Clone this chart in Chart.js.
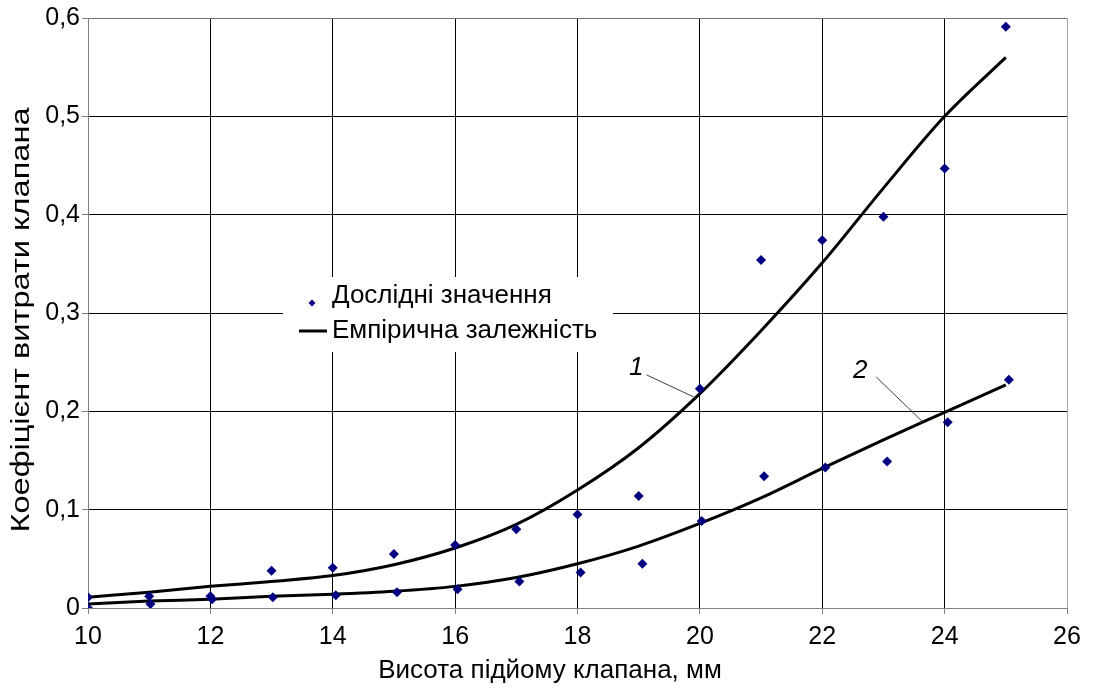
<!DOCTYPE html>
<html>
<head>
<meta charset="utf-8">
<script src="https://cdn.jsdelivr.net/npm/chart.js@4.4.1/dist/chart.umd.min.js"></script>
<style>
  html, body { margin: 0; padding: 0; background: #fff; }
  #wrap { width: 1093px; height: 688px; position: relative; }
</style>
</head>
<body>
<div id="wrap"><canvas id="c" width="1093" height="688"></canvas></div>
<script>
// ---- Data ----
const xMeasUpper = [10, 11, 12, 13, 14, 15, 16, 17, 18, 19, 20, 21, 22, 23, 24, 25];
const yMeasUpper = [0.011, 0.012, 0.012, 0.038, 0.041, 0.055, 0.064, 0.080, 0.095, 0.114, 0.223, 0.354, 0.374, 0.398, 0.447, 0.591];
const xMeasLower = [10, 11.02, 12.03, 13.02, 14.05, 15.05, 16.04, 17.05, 18.05, 19.06, 20.03, 21.05, 22.05, 23.06, 24.05, 25.05];
const yMeasLower = [0.0, 0.004, 0.009, 0.011, 0.013, 0.016, 0.019, 0.027, 0.036, 0.045, 0.0885, 0.134, 0.143, 0.149, 0.189, 0.232];

const xFit = [10, 11, 12, 13, 14, 15, 16, 17, 18, 19, 20, 21, 22, 23, 24, 25];
const yFit1 = [0.011, 0.016, 0.022, 0.027, 0.033, 0.044, 0.061, 0.085, 0.120, 0.163, 0.218, 0.282, 0.351, 0.427, 0.500, 0.560];
const yFit2 = [0.004, 0.007, 0.009, 0.012, 0.014, 0.017, 0.022, 0.031, 0.045, 0.063, 0.086, 0.112, 0.142, 0.171, 0.199, 0.227];

const xTicks = [10, 12, 14, 16, 18, 20, 22, 24, 26];
const yTicks = [0, 0.1, 0.2, 0.3, 0.4, 0.5, 0.6];

const legendLabels = ['Дослідні значення', 'Емпірична залежність'];
const xTitle = 'Висота підйому клапана, мм';
const yTitle = 'Коефіцієнт витрати клапана';

// curve labels "1", "2" and their leader lines (data coordinates)
const curveLabels = ['1', '2'];
const labelX = [18.96, 22.62];
const labelY = [0.244, 0.241];
const leaderFromX = [19.13, 22.88];
const leaderFromY = [0.237, 0.235];
const leaderToX = [19.90, 23.63];
const leaderToY = [0.2146, 0.190];

const FONT = '"Liberation Sans", Arial, sans-serif';
const NAVY = '#000080';

function pts(xs, ys) { return xs.map((x, i) => ({ x: x, y: ys[i] })); }

const decorPlugin = {
  id: 'decor',
  afterDraw(chart) {
    const ctx = chart.ctx;
    const xs = chart.scales.x, ys = chart.scales.y;
    const ca = chart.chartArea;
    ctx.save();
    // leader lines
    ctx.strokeStyle = '#404040';
    ctx.lineWidth = 1;
    for (let i = 0; i < curveLabels.length; i++) {
      ctx.beginPath();
      ctx.moveTo(xs.getPixelForValue(leaderFromX[i]), ys.getPixelForValue(leaderFromY[i]));
      ctx.lineTo(xs.getPixelForValue(leaderToX[i]), ys.getPixelForValue(leaderToY[i]));
      ctx.stroke();
    }
    // curve numbers
    ctx.fillStyle = '#000';
    ctx.font = 'italic 26px ' + FONT;
    ctx.textAlign = 'center';
    ctx.textBaseline = 'middle';
    for (let i = 0; i < curveLabels.length; i++) {
      ctx.fillText(curveLabels[i], xs.getPixelForValue(labelX[i]), ys.getPixelForValue(labelY[i]));
    }
    // legend box
    const lx = ca.left + 195, ly = ca.top + 259;
    ctx.fillStyle = '#fff';
    ctx.fillRect(lx, ly, 330, 75);
    // marker 1: diamond
    ctx.fillStyle = NAVY;
    ctx.beginPath();
    const mx = lx + 29, my = ly + 26, r = 3.5;
    ctx.moveTo(mx, my - r); ctx.lineTo(mx + r, my); ctx.lineTo(mx, my + r); ctx.lineTo(mx - r, my); ctx.closePath();
    ctx.fill();
    // marker 2: line
    ctx.strokeStyle = '#000';
    ctx.lineWidth = 3;
    ctx.beginPath();
    ctx.moveTo(lx + 16, ly + 54); ctx.lineTo(lx + 44, ly + 54);
    ctx.stroke();
    ctx.fillStyle = '#000';
    ctx.font = '26px ' + FONT;
    ctx.textAlign = 'left';
    ctx.textBaseline = 'alphabetic';
    ctx.fillText(legendLabels[0], lx + 49, ly + 26);
    ctx.fillText(legendLabels[1], lx + 49, ly + 61);
    // axis titles
    ctx.font = '26px ' + FONT;
    ctx.textAlign = 'center';
    ctx.textBaseline = 'middle';
    ctx.fillText(xTitle, 550, 671);
    ctx.font = '25px ' + FONT;
    const w = ctx.measureText(yTitle).width;
    ctx.translate(22, 320);
    ctx.rotate(-Math.PI / 2);
    ctx.scale(425 / w, 1);
    ctx.fillText(yTitle, 0, 0);
    ctx.restore();
  }
};

new Chart(document.getElementById('c'), {
  type: 'scatter',
  data: {
    datasets: [
      { label: legendLabels[1], type: 'line', data: pts(xFit, yFit1), borderColor: '#000', borderWidth: 3, pointRadius: 0, fill: false, cubicInterpolationMode: 'monotone', order: 2 },
      { label: legendLabels[1], type: 'line', data: pts(xFit, yFit2), borderColor: '#000', borderWidth: 3, pointRadius: 0, fill: false, cubicInterpolationMode: 'monotone', order: 2 },
      { label: legendLabels[0], data: pts(xMeasUpper, yMeasUpper), pointStyle: 'rectRot', pointRadius: 5, backgroundColor: NAVY, borderColor: NAVY, borderWidth: 0, order: 1 },
      { label: legendLabels[0], data: pts(xMeasLower, yMeasLower), pointStyle: 'rectRot', pointRadius: 5, backgroundColor: NAVY, borderColor: NAVY, borderWidth: 0, order: 1 }
    ]
  },
  options: {
    responsive: false,
    animation: false,
    devicePixelRatio: 1,
    layout: { padding: { top: 18, right: 26, left: 0, bottom: 0 } },
    plugins: { legend: { display: false }, tooltip: { enabled: false }, title: { display: false } },
    scales: {
      x: {
        type: 'linear', min: 10, max: 26,
        afterBuildTicks(scale) { scale.ticks = xTicks.map(v => ({ value: v })); },
        afterFit(scale) { scale.height = 80; },
        ticks: { color: '#000', font: { family: FONT, size: 25 }, padding: 8, callback: v => String(v) },
        grid: {
          color: ctx => (ctx.tick && ctx.tick.value === 26) ? '#a8a8a8' : '#000',
          lineWidth: 1, tickLength: 6, tickColor: '#808080', drawTicks: true
        },
        border: { color: '#808080', width: 1 }
      },
      y: {
        type: 'linear', min: 0, max: 0.6,
        afterBuildTicks(scale) { scale.ticks = yTicks.map(v => ({ value: v })); },
        afterFit(scale) { scale.width = 88; },
        ticks: { color: '#000', font: { family: FONT, size: 25 }, padding: 2,
          callback: v => v === 0 ? '0' : v.toFixed(1).replace('.', ',') },
        grid: {
          color: ctx => (ctx.tick && Math.abs(ctx.tick.value - 0.6) < 1e-9) ? '#707070' : '#000',
          lineWidth: 1, tickLength: 6, tickColor: '#808080', drawTicks: true
        },
        border: { color: '#808080', width: 1 }
      }
    }
  },
  plugins: [decorPlugin]
});
</script>
</body>
</html>
